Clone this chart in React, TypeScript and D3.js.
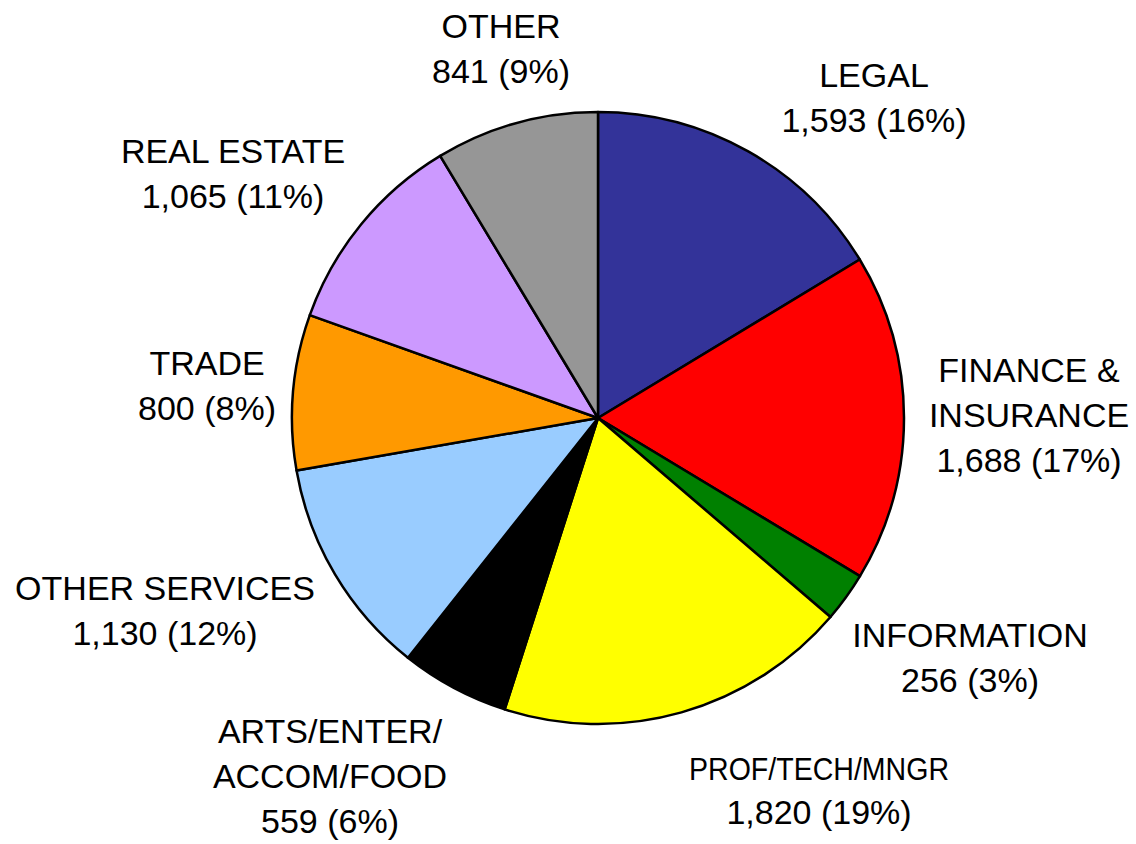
import React, { useEffect, useRef } from "react"
import * as d3 from "d3"

// Data
const categories = [
  "LEGAL",
  "FINANCE & INSURANCE",
  "INFORMATION",
  "PROF/TECH/MNGR",
  "ARTS/ENTER/ACCOM/FOOD",
  "OTHER SERVICES",
  "TRADE",
  "REAL ESTATE",
  "OTHER"
]
const values = [1593, 1688, 256, 1820, 559, 1130, 800, 1065, 841]
const labelLines = [
  ["LEGAL"],
  ["FINANCE &", "INSURANCE"],
  ["INFORMATION"],
  ["PROF/TECH/MNGR"],
  ["ARTS/ENTER/", "ACCOM/FOOD"],
  ["OTHER SERVICES"],
  ["TRADE"],
  ["REAL ESTATE"],
  ["OTHER"]
]
const colors = [
  "#333399",
  "#FF0000",
  "#008000",
  "#FFFF00",
  "#000000",
  "#99CCFF",
  "#FF9900",
  "#CC99FF",
  "#969696"
]

// label layout: center x, first baseline y
const labelPos: [number, number][] = [
  [874, 87],
  [1029, 382],
  [970, 647],
  [819, 780],
  [330, 743],
  [165, 600],
  [207, 375],
  [233, 163],
  [501, 38]
]

function PieChart() {
  const ref = useRef<SVGSVGElement>(null)

  useEffect(() => {
    const width = 1136
    const height = 844
    const cx = 598
    const cy = 418
    const r = 306
    const lineH = 45
    const total = d3.sum(values)
    const fmt = d3.format(",")

    const svg = d3.select(ref.current)
    svg.selectAll("*").remove()
    svg.attr("width", width).attr("height", height)

    const pie = d3.pie<number>().sort(null).value(d => d)
    const arc = d3.arc<d3.PieArcDatum<number>>().innerRadius(0).outerRadius(r)

    const g = svg.append("g").attr("transform", `translate(${cx}, ${cy})`)

    g.selectAll("path")
      .data(pie(values))
      .enter()
      .append("path")
      .attr("d", arc)
      .attr("fill", (d, i) => colors[i])
      .attr("stroke", "#000")
      .attr("stroke-width", 2.5)
      .attr("stroke-linejoin", "round")

    // Labels
    const labels = svg
      .append("g")
      .attr("font-family", "'Liberation Sans', Arial, sans-serif")
      .attr("font-size", 34)
      .attr("fill", "#000")
      .attr("text-anchor", "middle")

    categories.forEach((c, i) => {
      const [x, y] = labelPos[i]
      const lines = labelLines[i]
      const t = labels.append("text").attr("x", x).attr("y", y)
      lines.forEach((ln, j) => {
        const ts = t
          .append("tspan")
          .attr("x", x)
          .attr("dy", j === 0 ? 0 : lineH)
          .text(ln)
        if (c === "PROF/TECH/MNGR") {
          // narrower face in the original
          ts.attr("font-size", 32)
            .attr("textLength", 260)
            .attr("lengthAdjust", "spacingAndGlyphs")
        }
      })
      const pct = Math.round((values[i] / total) * 100)
      t.append("tspan")
        .attr("x", x)
        .attr("dy", c === "PROF/TECH/MNGR" ? 44 : lineH)
        .text(`${fmt(values[i])} (${pct}%)`)
    })
  }, [])

  return (
    <svg
      ref={ref}
      style={{ position: "absolute", left: 0, top: 0, display: "block", background: "#fff" }}
    />
  )
}

export default function App() {
  return <PieChart />
}
